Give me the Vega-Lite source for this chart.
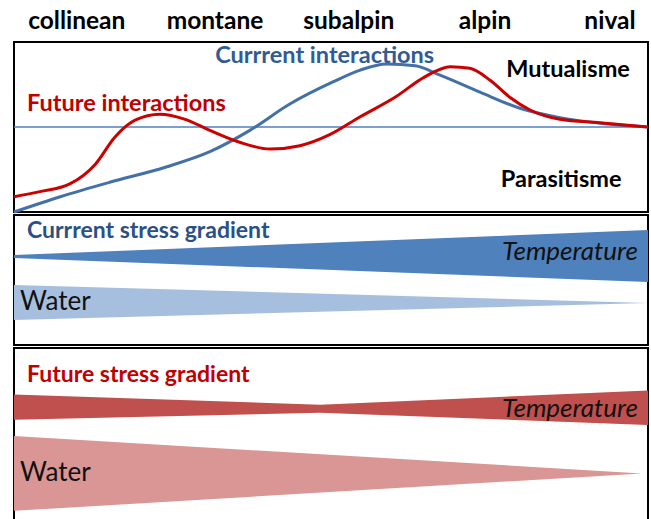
{
  "$schema": "https://vega.github.io/schema/vega-lite/v6.json",
  "padding": {"left": 7, "top": 8, "right": 2, "bottom": 0},
  "spacing": 3,
  "bounds": "flush",
  "background": "white",
  "config": {"view": {"stroke": "#000000", "strokeWidth": 2}},
  "datasets": {
    "zones": [
      {"zone": "collinean", "pos": 9.9, "level": 1.235},
      {"zone": "montane", "pos": 31.7, "level": 1.235},
      {"zone": "subalpin", "pos": 52.8, "level": 1.235},
      {"zone": "alpin", "pos": 74.3, "level": 1.235},
      {"zone": "nival", "pos": 94.0, "level": 1.235}
    ],
    "current": [
      {"x": 0, "y": -1.0}, {"x": 7.3, "y": -0.82}, {"x": 15.1, "y": -0.65}, {"x": 24.0, "y": -0.47},
      {"x": 30.9, "y": -0.29}, {"x": 37.2, "y": -0.04}, {"x": 43.5, "y": 0.27}, {"x": 50.3, "y": 0.53},
      {"x": 54.6, "y": 0.67}, {"x": 58.8, "y": 0.74}, {"x": 63.3, "y": 0.72}, {"x": 67.2, "y": 0.61},
      {"x": 73.5, "y": 0.41}, {"x": 79.8, "y": 0.22}, {"x": 86.1, "y": 0.11}, {"x": 92.9, "y": 0.04},
      {"x": 100, "y": 0.0}
    ],
    "future": [
      {"x": 0, "y": -0.82}, {"x": 4.1, "y": -0.76}, {"x": 8.8, "y": -0.67}, {"x": 12.8, "y": -0.44},
      {"x": 15.9, "y": -0.12}, {"x": 19.1, "y": 0.08}, {"x": 23.0, "y": 0.15}, {"x": 27.0, "y": 0.09},
      {"x": 30.9, "y": -0.04}, {"x": 35.6, "y": -0.18}, {"x": 40.4, "y": -0.26}, {"x": 45.1, "y": -0.22},
      {"x": 49.8, "y": -0.09}, {"x": 54.6, "y": 0.12}, {"x": 60.1, "y": 0.35}, {"x": 64.8, "y": 0.59},
      {"x": 68.8, "y": 0.71}, {"x": 71.9, "y": 0.69}, {"x": 75.1, "y": 0.55}, {"x": 78.2, "y": 0.35},
      {"x": 81.4, "y": 0.2}, {"x": 86.1, "y": 0.09}, {"x": 92.4, "y": 0.05}, {"x": 100, "y": 0.0}
    ],
    "neutral": [{"level": 0}],
    "curTemp": [{"x": 0, "top": 69.2, "bottom": 66.9}, {"x": 100, "top": 88.5, "bottom": 48.5}],
    "curWater": [{"x": 0, "top": 46.2, "bottom": 19.2}, {"x": 100, "top": 32.3, "bottom": 32.3}],
    "futTemp": [{"x": 0, "top": 73.3, "bottom": 58.7}, {"x": 48.3, "top": 67.4, "bottom": 62.8}, {"x": 100, "top": 75.6, "bottom": 55.8}],
    "futWater": [{"x": 0, "top": 49.4, "bottom": 6.4}, {"x": 99, "top": 27.9, "bottom": 27.9}]
  },
  "vconcat": [
    {
      "width": 634,
      "height": 170,
      "layer": [
        {
          "data": {"name": "neutral"},
          "mark": {"type": "rule", "color": "#4F81BD", "strokeWidth": 1.5},
          "encoding": {"y": {"field": "level", "type": "quantitative", "scale": {"domain": [-1, 1]}, "axis": null}}
        },
        {
          "data": {"name": "current"},
          "mark": {"type": "line", "color": "#4470A8", "strokeWidth": 3, "interpolate": "monotone"},
          "encoding": {
            "x": {"field": "x", "type": "quantitative", "scale": {"domain": [0, 100]}, "axis": null},
            "y": {"field": "y", "type": "quantitative", "scale": {"domain": [-1, 1]}, "axis": null}
          }
        },
        {
          "data": {"name": "future"},
          "mark": {"type": "line", "color": "#CC0000", "strokeWidth": 3, "interpolate": "monotone"},
          "encoding": {
            "x": {"field": "x", "type": "quantitative", "scale": {"domain": [0, 100]}, "axis": null},
            "y": {"field": "y", "type": "quantitative", "scale": {"domain": [-1, 1]}, "axis": null}
          }
        },
        {
          "data": {"name": "zones"},
          "mark": {"type": "text", "font": "Lato", "fontSize": 24.5, "fontWeight": "bold", "color": "#000000", "baseline": "middle", "align": "center"},
          "encoding": {
            "x": {"field": "pos", "type": "quantitative", "scale": {"domain": [0, 100]}, "axis": null},
            "y": {"field": "level", "type": "quantitative", "scale": {"domain": [-1, 1]}, "axis": null},
            "text": {"field": "zone"}
          }
        },
        {
          "data": {"values": [{"label": "Currrent interactions", "x": 49.0, "y": 0.835}]},
          "mark": {"type": "text", "font": "Lato", "fontSize": 23.5, "fontWeight": "bold", "color": "#2F5C94", "baseline": "middle", "align": "center"},
          "encoding": {
            "x": {"field": "x", "type": "quantitative", "scale": {"domain": [0, 100]}, "axis": null},
            "y": {"field": "y", "type": "quantitative", "scale": {"domain": [-1, 1]}, "axis": null},
            "text": {"field": "label"}
          }
        },
        {
          "data": {"values": [{"label": "Future interactions", "x": 2.05, "y": 0.27}]},
          "mark": {"type": "text", "font": "Lato", "fontSize": 23.5, "fontWeight": "bold", "color": "#C00000", "baseline": "middle", "align": "left"},
          "encoding": {
            "x": {"field": "x", "type": "quantitative", "scale": {"domain": [0, 100]}, "axis": null},
            "y": {"field": "y", "type": "quantitative", "scale": {"domain": [-1, 1]}, "axis": null},
            "text": {"field": "label"}
          }
        },
        {
          "data": {"values": [{"label": "Mutualisme", "x": 87.4, "y": 0.67}, {"label": "Parasitisme", "x": 86.3, "y": -0.62}]},
          "mark": {"type": "text", "font": "Lato", "fontSize": 23.5, "fontWeight": "bold", "color": "#000000", "baseline": "middle", "align": "center"},
          "encoding": {
            "x": {"field": "x", "type": "quantitative", "scale": {"domain": [0, 100]}, "axis": null},
            "y": {"field": "y", "type": "quantitative", "scale": {"domain": [-1, 1]}, "axis": null},
            "text": {"field": "label"}
          }
        }
      ]
    },
    {
      "width": 634,
      "height": 130,
      "layer": [
        {
          "data": {"name": "curTemp"},
          "mark": {"type": "area", "color": "#4F81BD", "opacity": 1},
          "encoding": {
            "x": {"field": "x", "type": "quantitative", "scale": {"domain": [0, 100]}, "axis": null},
            "y": {"field": "top", "type": "quantitative", "scale": {"domain": [0, 100]}, "axis": null},
            "y2": {"field": "bottom"}
          }
        },
        {
          "data": {"name": "curWater"},
          "mark": {"type": "area", "color": "#A7BFDE", "opacity": 1},
          "encoding": {
            "x": {"field": "x", "type": "quantitative", "scale": {"domain": [0, 100]}, "axis": null},
            "y": {"field": "top", "type": "quantitative", "scale": {"domain": [0, 100]}, "axis": null},
            "y2": {"field": "bottom"}
          }
        },
        {
          "data": {"values": [{"label": "Currrent stress gradient", "x": 2.05, "y": 87.7}]},
          "mark": {"type": "text", "font": "Lato", "fontSize": 23, "fontWeight": "bold", "color": "#2A5084", "baseline": "middle", "align": "left"},
          "encoding": {
            "x": {"field": "x", "type": "quantitative", "scale": {"domain": [0, 100]}, "axis": null},
            "y": {"field": "y", "type": "quantitative", "scale": {"domain": [0, 100]}, "axis": null},
            "text": {"field": "label"}
          }
        },
        {
          "data": {"values": [{"label": "Temperature", "x": 98.4, "y": 71.5}]},
          "mark": {"type": "text", "font": "Lato", "fontSize": 26, "fontStyle": "italic", "color": "#111111", "baseline": "middle", "align": "right"},
          "encoding": {
            "x": {"field": "x", "type": "quantitative", "scale": {"domain": [0, 100]}, "axis": null},
            "y": {"field": "y", "type": "quantitative", "scale": {"domain": [0, 100]}, "axis": null},
            "text": {"field": "label"}
          }
        },
        {
          "data": {"values": [{"label": "Water", "x": 0.95, "y": 33.1}]},
          "mark": {"type": "text", "font": "Lato", "fontSize": 26, "color": "#111111", "baseline": "middle", "align": "left"},
          "encoding": {
            "x": {"field": "x", "type": "quantitative", "scale": {"domain": [0, 100]}, "axis": null},
            "y": {"field": "y", "type": "quantitative", "scale": {"domain": [0, 100]}, "axis": null},
            "text": {"field": "label"}
          }
        }
      ]
    },
    {
      "width": 634,
      "height": 174,
      "layer": [
        {
          "data": {"name": "futTemp"},
          "mark": {"type": "area", "color": "#C0504D", "opacity": 1},
          "encoding": {
            "x": {"field": "x", "type": "quantitative", "scale": {"domain": [0, 100]}, "axis": null},
            "y": {"field": "top", "type": "quantitative", "scale": {"domain": [0, 100]}, "axis": null},
            "y2": {"field": "bottom"}
          }
        },
        {
          "data": {"name": "futWater"},
          "mark": {"type": "area", "color": "#D99694", "opacity": 1},
          "encoding": {
            "x": {"field": "x", "type": "quantitative", "scale": {"domain": [0, 100]}, "axis": null},
            "y": {"field": "top", "type": "quantitative", "scale": {"domain": [0, 100]}, "axis": null},
            "y2": {"field": "bottom"}
          }
        },
        {
          "data": {"values": [{"label": "Future stress gradient", "x": 2.05, "y": 84.3}]},
          "mark": {"type": "text", "font": "Lato", "fontSize": 23, "fontWeight": "bold", "color": "#C00000", "baseline": "middle", "align": "left"},
          "encoding": {
            "x": {"field": "x", "type": "quantitative", "scale": {"domain": [0, 100]}, "axis": null},
            "y": {"field": "y", "type": "quantitative", "scale": {"domain": [0, 100]}, "axis": null},
            "text": {"field": "label"}
          }
        },
        {
          "data": {"values": [{"label": "Temperature", "x": 98.4, "y": 65.1}]},
          "mark": {"type": "text", "font": "Lato", "fontSize": 26, "fontStyle": "italic", "color": "#111111", "baseline": "middle", "align": "right"},
          "encoding": {
            "x": {"field": "x", "type": "quantitative", "scale": {"domain": [0, 100]}, "axis": null},
            "y": {"field": "y", "type": "quantitative", "scale": {"domain": [0, 100]}, "axis": null},
            "text": {"field": "label"}
          }
        },
        {
          "data": {"values": [{"label": "Water", "x": 0.95, "y": 27.9}]},
          "mark": {"type": "text", "font": "Lato", "fontSize": 26, "color": "#111111", "baseline": "middle", "align": "left"},
          "encoding": {
            "x": {"field": "x", "type": "quantitative", "scale": {"domain": [0, 100]}, "axis": null},
            "y": {"field": "y", "type": "quantitative", "scale": {"domain": [0, 100]}, "axis": null},
            "text": {"field": "label"}
          }
        }
      ]
    }
  ]
}
